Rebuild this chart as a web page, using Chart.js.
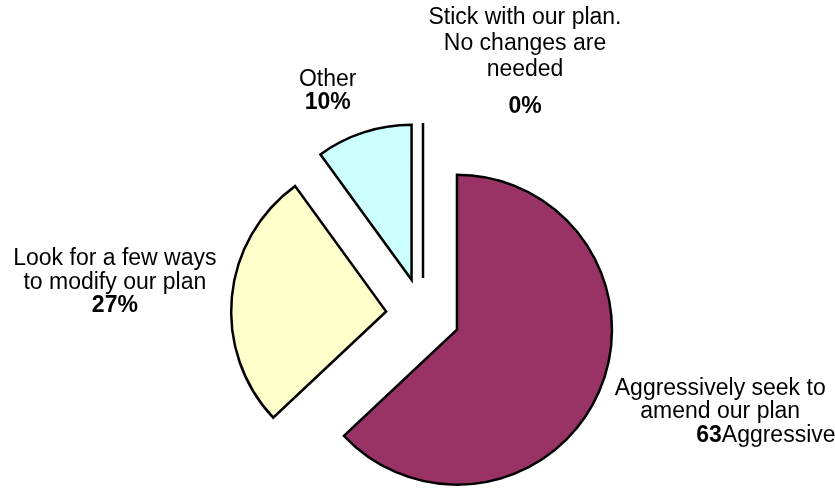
<!DOCTYPE html>
<html>
<head>
<meta charset="utf-8">
<script src="https://cdn.jsdelivr.net/npm/chart.js@4.4.0/dist/chart.umd.min.js"></script>
<style>
  html, body { margin: 0; padding: 0; background: #fff; }
  canvas { display: block; }
</style>
</head>
<body>
<canvas id="pieChart" width="835" height="492"></canvas>
<script>
const categories = [
  "Aggressively seek to amend our plan",
  "Look for a few ways to modify our plan",
  "Other",
  "Stick with our plan. No changes are needed"
];
const values = [63, 27, 10, 0];
const valueLabels = ["63", "27%", "10%", "0%"];
const categoryLines = [
  ["Aggressively seek to", "amend our plan"],
  ["Look for a few ways", "to modify our plan"],
  ["Other"],
  ["Stick with our plan.", "No changes are", "needed"]
];
const sliceColors = ["#993366", "#FFFFCC", "#CCFFFF", "#FFFFFF"];

// layout
const explode = 37;
const pieRadius = 155;
const labelShift = [[121, -3], [-117, -38], [-36, -53], [102, -105]];
const lineHeights = [23.5, 23.5, 23.5, 26];
const valueGap = [0, 0, 0, 11];
const valueStartX = [-24, null, null, null];
const fontFamily = '"Liberation Sans", Arial, sans-serif';

const shiftArcs = (meta, sign) => {
  meta.data.forEach((arc) => {
    const mid = (arc.startAngle + arc.endAngle) / 2;
    arc.x += sign * Math.cos(mid) * explode;
    arc.y += sign * Math.sin(mid) * explode;
  });
};

const explodedPie = {
  id: "explodedPie",
  beforeDatasetDraw(chart, args) {
    shiftArcs(args.meta, 1);
  },
  afterDatasetDraw(chart, args) {
    const ctx = chart.ctx;
    ctx.save();
    args.meta.data.forEach((arc, i) => {
      const mid = (arc.startAngle + arc.endAngle) / 2;
      // a 0% slice is only its edge
      if (arc.circumference === 0) {
        ctx.strokeStyle = "#000";
        ctx.lineWidth = 2.5;
        ctx.beginPath();
        ctx.moveTo(arc.x, arc.y);
        ctx.lineTo(arc.x + Math.cos(arc.startAngle) * arc.outerRadius,
                   arc.y + Math.sin(arc.startAngle) * arc.outerRadius);
        ctx.stroke();
      }
      const ax = arc.x + Math.cos(mid) * arc.outerRadius + labelShift[i][0];
      let y = arc.y + Math.sin(mid) * arc.outerRadius + labelShift[i][1];
      ctx.fillStyle = "#000";
      ctx.textBaseline = "middle";
      ctx.textAlign = "center";
      ctx.font = "23px " + fontFamily;
      categoryLines[i].forEach((line) => {
        ctx.fillText(line, ax, y);
        y += lineHeights[i];
      });
      y += valueGap[i];
      ctx.font = "bold 23px " + fontFamily;
      if (valueStartX[i] === null) {
        ctx.fillText(valueLabels[i], ax, y);
      } else {
        ctx.textAlign = "left";
        const x0 = ax + valueStartX[i];
        ctx.fillText(valueLabels[i], x0, y);
        const w = ctx.measureText(valueLabels[i]).width;
        ctx.font = "23px " + fontFamily;
        ctx.fillText(categories[i], x0 + w, y);
      }
    });
    ctx.restore();
    shiftArcs(args.meta, -1);
  }
};

new Chart(document.getElementById("pieChart"), {
  type: "pie",
  data: {
    labels: categories,
    datasets: [
      {
        data: values,
        backgroundColor: sliceColors,
        borderColor: "#000",
        borderWidth: 2.5,
        borderJoinStyle: "miter",
        clip: false,
      },
    ],
  },
  options: {
    responsive: false,
    animation: false,
    events: [],
    radius: pieRadius,
    layout: { padding: { left: 11, right: 0, top: 138, bottom: 0 } },
    plugins: {
      legend: { display: false },
      tooltip: { enabled: false },
    },
  },
  plugins: [explodedPie],
});
</script>
</body>
</html>
